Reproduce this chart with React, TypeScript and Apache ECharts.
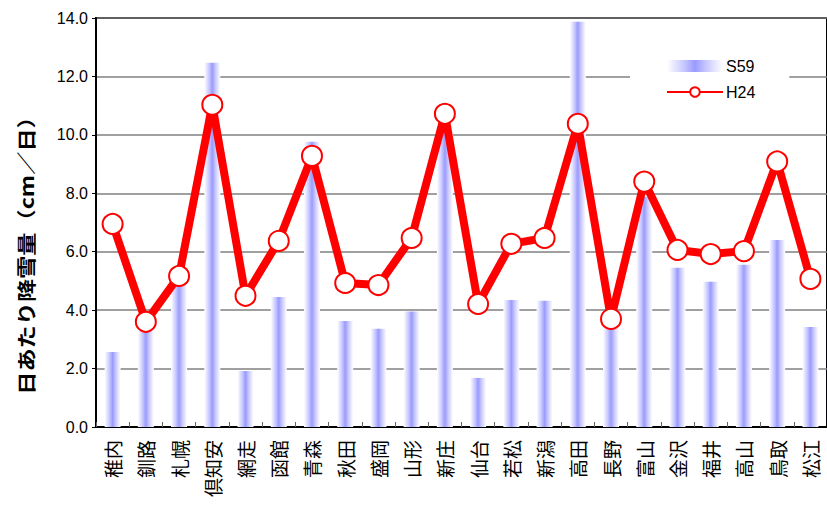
import React, { useEffect, useRef } from "react";
import * as echarts from "echarts";

const categories = ["稚内", "釧路", "札幌", "倶知安", "網走", "函館", "青森", "秋田", "盛岡", "山形", "新庄", "仙台", "若松", "新潟", "高田", "長野", "富山", "金沢", "福井", "高山", "鳥取", "松江"];
const s59 = [2.57, 3.3, 4.93, 12.47, 1.92, 4.45, 9.76, 3.63, 3.36, 3.95, 10.3, 1.68, 4.35, 4.32, 13.87, 3.4, 7.88, 5.45, 4.97, 5.55, 6.4, 3.42];
const h24 = [6.95, 3.6, 5.17, 11.03, 4.49, 6.37, 9.28, 4.93, 4.86, 6.47, 10.72, 4.21, 6.27, 6.47, 10.38, 3.7, 8.4, 6.06, 5.92, 6.02, 9.09, 5.07];
const yTicks = { min: 0, max: 14, interval: 2 };
const yName = "日あたり降雪量（cm／日）";

export default function App() {
  const ref = useRef<HTMLDivElement>(null);
  useEffect(() => {
    if (!ref.current) return;
    const chart = echarts.init(ref.current, null, { renderer: "svg" });
    const barGrad = new echarts.graphic.LinearGradient(0, 0, 1, 0, [
      { offset: 0, color: "rgba(255,255,255,1)" },
      { offset: 0.3, color: "#c8c8ff" },
      { offset: 0.5, color: "#9a9aff" },
      { offset: 0.7, color: "#c8c8ff" },
      { offset: 1, color: "rgba(255,255,255,1)" },
    ]);
    chart.setOption({
      animation: false,
      backgroundColor: "#fff",
      textStyle: { fontFamily: "Liberation Sans" },
      grid: {
        left: 96,
        top: 18,
        width: 734,
        height: 409,
        show: true,
        borderColor: "#000",
        borderWidth: 2,
        containLabel: false,
      },
      graphic: [
        {
          type: "text",
          x: 25,
          y: 250,
          rotation: Math.PI / 2,
          scaleX: 1.22,
          style: {
            text: yName,
            fontSize: 19,
            fontWeight: "bold",
            fill: "#000",
            fontFamily: "Noto Sans CJK JP",
            align: "center",
            verticalAlign: "middle",
          },
        },
      ],
      legend: {
        orient: "vertical",
        left: 630,
        top: 52,
        width: 168,
        padding: [6, 34, 8, 36],
        backgroundColor: "#fff",
        itemWidth: 56,
        itemHeight: 12,
        itemGap: 10,
        textStyle: { fontSize: 16, color: "#000", fontFamily: "Liberation Sans", padding: [0, 0, 0, -2] },
        data: [
          { name: "S59", icon: "rect" },
          { name: "H24" },
        ],
      },
      xAxis: {
        type: "category",
        data: categories,
        boundaryGap: true,
        axisLine: { lineStyle: { color: "#000", width: 2 } },
        axisTick: { show: true, inside: true, length: 5, lineStyle: { color: "#666" } },
        axisLabel: {
          rotate: 90,
          fontSize: 19,
          color: "#000",
          margin: 13,
          fontFamily: "Noto Sans CJK JP",
        },
        splitLine: { show: false },
      },
      yAxis: {
        type: "value",
        min: yTicks.min,
        max: yTicks.max,
        interval: yTicks.interval,
        axisLine: { show: true, lineStyle: { color: "#000", width: 2 } },
        axisTick: { show: true, length: 4, lineStyle: { color: "#000" } },
        axisLabel: {
          formatter: (v: number) => v.toFixed(1),
          fontSize: 16,
          color: "#000",
          margin: 8,
          fontFamily: "Liberation Sans",
        },
        splitLine: { show: true, lineStyle: { color: "#808080", width: 1.5 } },
      },
      series: [
        {
          name: "S59",
          type: "bar",
          data: s59,
          barWidth: 16,
          itemStyle: { color: barGrad },
        },
        {
          name: "H24",
          type: "line",
          data: h24,
          symbol: "circle",
          symbolSize: 20,
          lineStyle: { color: "#ff0000", width: 8 },
          itemStyle: { color: "#fff", borderColor: "#ff0000", borderWidth: 2 },
          z: 5,
        },
      ],
    });
    return () => chart.dispose();
  }, []);
  return <div ref={ref} style={{ width: 827, height: 505, position: "absolute", left: 0, top: 0 }} />;
}
